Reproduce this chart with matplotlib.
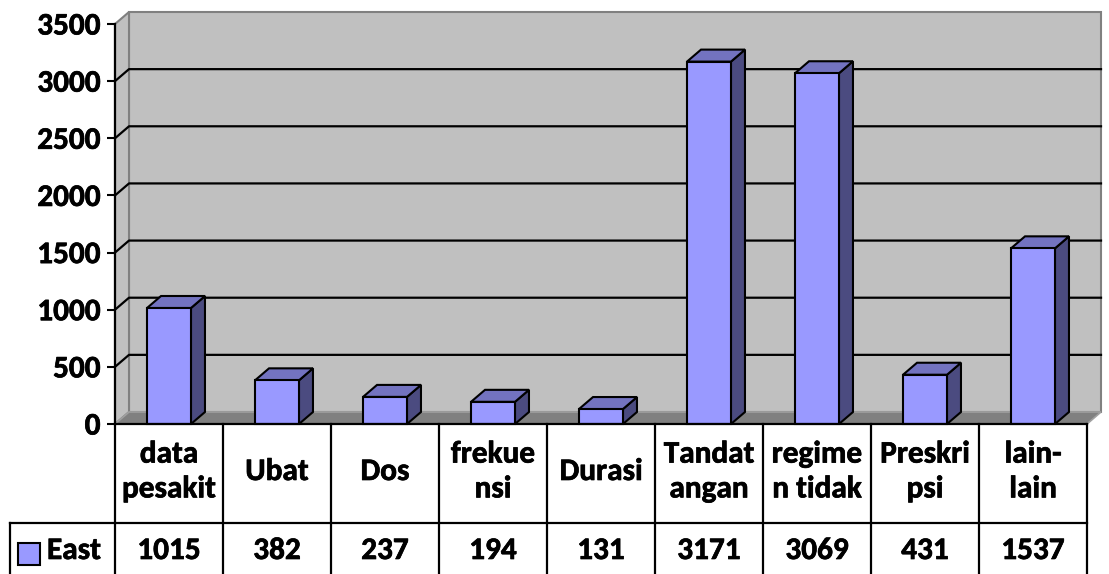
import matplotlib
matplotlib.use("Agg")
import matplotlib.pyplot as plt
import matplotlib.patheffects as pe
from matplotlib.patches import Polygon, Rectangle
from matplotlib.transforms import blended_transform_factory
from matplotlib.lines import Line2D

categories = ["data\npesakit", "Ubat", "Dos", "frekue\nnsi", "Durasi",
              "Tandat\nangan", "regime\nn tidak", "Preskri\npsi", "lain-\nlain"]
series_name = "East"
values = [1015, 382, 237, 194, 131, 3171, 3069, 431, 1537]
yticks = [0, 500, 1000, 1500, 2000, 2500, 3000, 3500]

FONT = "Carlito"
FS = 22.5
FRONT = "#9999FF"
SIDE = "#4B4B80"
TOP = "#7373C0"
WALL = "#C0C0C0"
FLOOR = "#808080"
THICK = [pe.withStroke(linewidth=0.5, foreground="black")]

fig = plt.figure(figsize=(11.09, 5.74), dpi=100)
L, R, B, T = 115, 1087, 424, 24
W, H = 1109, 574
ax = fig.add_axes([L / W, (H - B) / H, (R - L) / W, (B - T) / H])
n = len(categories)
ax.set_xlim(-0.5, n - 0.5)
ax.set_ylim(0, 3500)

colw = (R - L) / n
dx = 14 / colw
dy = 12 / (B - T) * 3500
x0, x1 = -0.5, n - 0.5
ytop = 3500

# walls and floor
ax.add_patch(Polygon([(x0 + dx, dy), (x1 + dx, dy), (x1 + dx, ytop + dy), (x0 + dx, ytop + dy)],
                     closed=True, facecolor=WALL, edgecolor="#808080", lw=1.5, zorder=0, clip_on=False))
ax.add_patch(Polygon([(x0, 0), (x0 + dx, dy), (x0 + dx, ytop + dy), (x0, ytop)],
                     closed=True, facecolor=WALL, edgecolor="#808080", lw=1.5, zorder=0, clip_on=False))
ax.add_patch(Polygon([(x0, 0), (x1, 0), (x1 + dx, dy), (x0 + dx, dy)],
                     closed=True, facecolor=FLOOR, edgecolor="#A0A0A0", lw=1.2, zorder=1, clip_on=False))

# gridlines
for v in yticks[1:-1]:
    ax.plot([x0, x0 + dx, x1 + dx], [v, v + dy, v + dy], color="black", lw=1.6, zorder=1, clip_on=False)

# bars
hw = 0.2035
for i, v in enumerate(values):
    ax.add_patch(Polygon([(i + hw, 0), (i + hw + dx, dy), (i + hw + dx, v + dy), (i + hw, v)],
                         closed=True, facecolor=SIDE, edgecolor="black", lw=1.5, zorder=3, clip_on=False))
    ax.add_patch(Polygon([(i - hw, v), (i + hw, v), (i + hw + dx, v + dy), (i - hw + dx, v + dy)],
                         closed=True, facecolor=TOP, edgecolor="black", lw=1.5, zorder=3, clip_on=False))
ax.bar(range(n), values, width=2 * hw, color=FRONT, edgecolor="black", lw=1.5, zorder=4, clip_on=False)

# axes styling
for s in ["top", "right", "bottom"]:
    ax.spines[s].set_visible(False)
ax.spines["left"].set_linewidth(1.6)
ax.spines["left"].set_zorder(5)
ax.set_xticks([])
ax.set_yticks(yticks)
ax.set_yticklabels([str(t) for t in yticks], fontfamily=FONT, fontweight="bold", fontsize=FS)
for lab in ax.get_yticklabels():
    lab.set_path_effects(THICK)
ax.tick_params(axis="y", length=6, width=1.5, pad=4.5)
ax.set_facecolor("none")

# data table
tr = blended_transform_factory(ax.transData, ax.transAxes)
row_line = -(523 - B) / (B - T)
bottom = -(H + 5 - B) / (B - T)
head_c = -(472 - B) / (B - T)
data_c = -(551 - B) / (B - T)
leg_left = x0 - (L - 10) / colw

def tline(xs, ys):
    ax.add_line(Line2D(xs, ys, transform=tr, color="black", lw=1.6, clip_on=False, zorder=6))

tline([x0, x1], [0, 0])
tline([leg_left, x1], [row_line, row_line])
for k in range(n + 1):
    tline([x0 + k, x0 + k], [0, bottom])
tline([leg_left, leg_left], [row_line, bottom])

for i, c in enumerate(categories):
    ax.text(i, head_c, c, transform=tr, ha="center", va="center", fontfamily=FONT,
            fontweight="bold", fontsize=FS, linespacing=1.42, path_effects=THICK)
    ax.text(i, data_c, str(values[i]), transform=tr, ha="center", va="center",
            fontfamily=FONT, fontweight="bold", fontsize=FS, path_effects=THICK)

sq_x = x0 - (L - 18) / colw
ax.add_patch(Rectangle((sq_x, -(565 - B) / (B - T)), 22 / colw, 22 / (B - T), transform=tr,
                       facecolor=FRONT, edgecolor="black", lw=1.5, clip_on=False, zorder=6))
ax.text(x0 - (L - 47) / colw, data_c, series_name, transform=tr, ha="left", va="center",
        fontfamily=FONT, fontweight="bold", fontsize=FS, path_effects=THICK)

fig.savefig("out.png", dpi=100)
